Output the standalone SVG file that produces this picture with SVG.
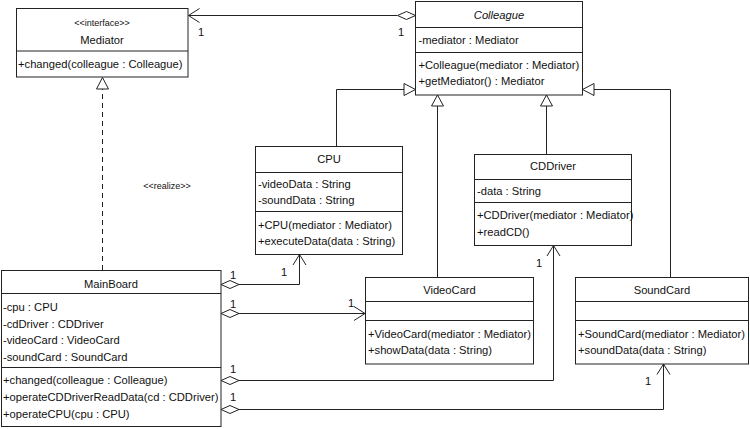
<svg xmlns="http://www.w3.org/2000/svg" width="750" height="429" viewBox="0 0 750 429">
<style>
.box{fill:#fff;stroke:#222;stroke-width:1}
.div{stroke:#222;stroke-width:1}
text{font-family:"Liberation Sans",Arial,sans-serif;font-size:11.2px;fill:#111}
.t{text-anchor:middle}
.it{font-style:italic}
.st{font-size:9px}
.ln{fill:none;stroke:#222;stroke-width:1}
.tri{fill:#fff;stroke:#222;stroke-width:1}
.dia{fill:#fff;stroke:#222;stroke-width:1}
.dash{fill:none;stroke:#222;stroke-width:1;stroke-dasharray:5,4}
.m{text-anchor:middle}
</style>
<rect width="750" height="429" fill="#fff"/>

<g id="connectors">
  <!-- Colleague -> Mediator association -->
  <line class="ln" x1="188.5" y1="15.5" x2="397" y2="15.5"/>
  <polyline class="ln" points="199.5,8.5 188.5,15.5 199.5,22.5"/>
  <polygon class="dia" points="415.5,15.5 406.5,11.5 397.5,15.5 406.5,19.5"/>
  <text class="m" x="201" y="36">1</text>
  <text class="m" x="401" y="36">1</text>

  <!-- realization MainBoard -> Mediator -->
  <line class="dash" x1="102.5" y1="270" x2="102.5" y2="89"/>
  <polygon class="tri" points="96.5,89 102.5,77.5 108.5,89"/>
  <text class="st m" x="167" y="189">&lt;&lt;realize&gt;&gt;</text>

  <!-- generalizations -->
  <polyline class="ln" points="336.5,146.5 336.5,89.5 404,89.5"/>
  <polygon class="tri" points="404,83.5 415.5,89.5 404,95.5"/>
  <line class="ln" x1="437.5" y1="277.5" x2="437.5" y2="106"/>
  <polygon class="tri" points="431.5,106 437.5,95 443.5,106"/>
  <line class="ln" x1="546.5" y1="154.5" x2="546.5" y2="106"/>
  <polygon class="tri" points="540.5,106 546.5,95 552.5,106"/>
  <polyline class="ln" points="670.5,277.5 670.5,89.5 594,89.5"/>
  <polygon class="tri" points="594,83.5 582.5,89.5 594,95.5"/>

  <!-- MainBoard -> CPU -->
  <polyline class="ln" points="239,284.5 299.5,284.5 299.5,254.5"/>
  <polyline class="ln" points="293,265 299.5,254.5 306,265"/>
  <polygon class="dia" points="221,284.5 230,280.5 239,284.5 230,288.5"/>
  <text class="m" x="233" y="279">1</text>
  <text class="m" x="284" y="275.5">1</text>

  <!-- MainBoard -> VideoCard -->
  <line class="ln" x1="239" y1="313.5" x2="365" y2="313.5"/>
  <polyline class="ln" points="354,306.5 365,313.5 354,320.5"/>
  <polygon class="dia" points="221,313.5 230,309.5 239,313.5 230,317.5"/>
  <text class="m" x="233" y="307.5">1</text>
  <text class="m" x="351" y="307">1</text>

  <!-- MainBoard -> CDDriver -->
  <polyline class="ln" points="239,380.5 553.5,380.5 553.5,245.5"/>
  <polyline class="ln" points="547,256 553.5,245.5 560,256"/>
  <polygon class="dia" points="221,380.5 230,376.5 239,380.5 230,384.5"/>
  <text class="m" x="233" y="372.5">1</text>
  <text class="m" x="539" y="267">1</text>

  <!-- MainBoard -> SoundCard -->
  <polyline class="ln" points="239,409.5 663.5,409.5 663.5,364"/>
  <polyline class="ln" points="657,374.5 663.5,364 670,374.5"/>
  <polygon class="dia" points="221,409.5 230,405.5 239,409.5 230,413.5"/>
  <text class="m" x="233" y="401">1</text>
  <text class="m" x="648" y="385">1</text>
</g>

<g id="Mediator">
  <rect class="box" x="16.5" y="8.5" width="171.5" height="68.5"/>
  <line class="div" x1="16.5" y1="51" x2="188" y2="51"/>
  <text class="t st" x="102" y="26">&lt;&lt;interface&gt;&gt;</text>
  <text class="t" x="102" y="43.5">Mediator</text>
  <text x="18" y="67.5">+changed(colleague : Colleague)</text>
</g>

<g id="Colleague">
  <rect class="box" x="415.5" y="1.5" width="167" height="93.5"/>
  <line class="div" x1="415.5" y1="27.5" x2="582.5" y2="27.5"/>
  <line class="div" x1="415.5" y1="52.5" x2="582.5" y2="52.5"/>
  <text class="t it" x="499" y="19">Colleague</text>
  <text x="418.5" y="44">-mediator : Mediator</text>
  <text x="418.5" y="68.5">+Colleague(mediator : Mediator)</text>
  <text x="418.5" y="85">+getMediator() : Mediator</text>
</g>

<g id="CPU">
  <rect class="box" x="255.5" y="146.5" width="147" height="108"/>
  <line class="div" x1="255.5" y1="172.5" x2="402.5" y2="172.5"/>
  <line class="div" x1="255.5" y1="211.5" x2="402.5" y2="211.5"/>
  <text class="t" x="329" y="163">CPU</text>
  <text x="258" y="187.5">-videoData : String</text>
  <text x="258" y="204">-soundData : String</text>
  <text x="258" y="228.5">+CPU(mediator : Mediator)</text>
  <text x="258" y="245">+executeData(data : String)</text>
</g>

<g id="CDDriver">
  <rect class="box" x="474.5" y="154.5" width="157" height="91"/>
  <line class="div" x1="474.5" y1="179.5" x2="631.5" y2="179.5"/>
  <line class="div" x1="474.5" y1="202.5" x2="631.5" y2="202.5"/>
  <text class="t" x="553" y="170">CDDriver</text>
  <text x="477" y="195">-data : String</text>
  <text x="477" y="219">+CDDriver(mediator : Mediator)</text>
  <text x="477" y="236">+readCD()</text>
</g>

<g id="MainBoard">
  <rect class="box" x="1.5" y="270.5" width="219.5" height="156"/>
  <line class="div" x1="1.5" y1="293.5" x2="221" y2="293.5"/>
  <line class="div" x1="1.5" y1="367.5" x2="221" y2="367.5"/>
  <text class="t" x="111" y="287.5">MainBoard</text>
  <text x="3" y="311">-cpu : CPU</text>
  <text x="3" y="327.5">-cdDriver : CDDriver</text>
  <text x="3" y="344">-videoCard : VideoCard</text>
  <text x="3" y="361">-soundCard : SoundCard</text>
  <text x="3" y="384">+changed(colleague : Colleague)</text>
  <text x="3" y="401">+operateCDDriverReadData(cd : CDDriver)</text>
  <text x="3" y="418">+operateCPU(cpu : CPU)</text>
</g>

<g id="VideoCard">
  <rect class="box" x="365.5" y="277.5" width="168" height="86.5"/>
  <line class="div" x1="365.5" y1="301.5" x2="533.5" y2="301.5"/>
  <line class="div" x1="365.5" y1="320.5" x2="533.5" y2="320.5"/>
  <text class="t" x="449.5" y="293.5">VideoCard</text>
  <text x="368" y="337.5">+VideoCard(mediator : Mediator)</text>
  <text x="368" y="353.5">+showData(data : String)</text>
</g>

<g id="SoundCard">
  <rect class="box" x="575.5" y="277.5" width="173" height="86.5"/>
  <line class="div" x1="575.5" y1="301.5" x2="748.5" y2="301.5"/>
  <line class="div" x1="575.5" y1="320.5" x2="748.5" y2="320.5"/>
  <text class="t" x="662" y="293.5">SoundCard</text>
  <text x="578" y="337.5">+SoundCard(mediator : Mediator)</text>
  <text x="578" y="353.5">+soundData(data : String)</text>
</g>
</svg>
